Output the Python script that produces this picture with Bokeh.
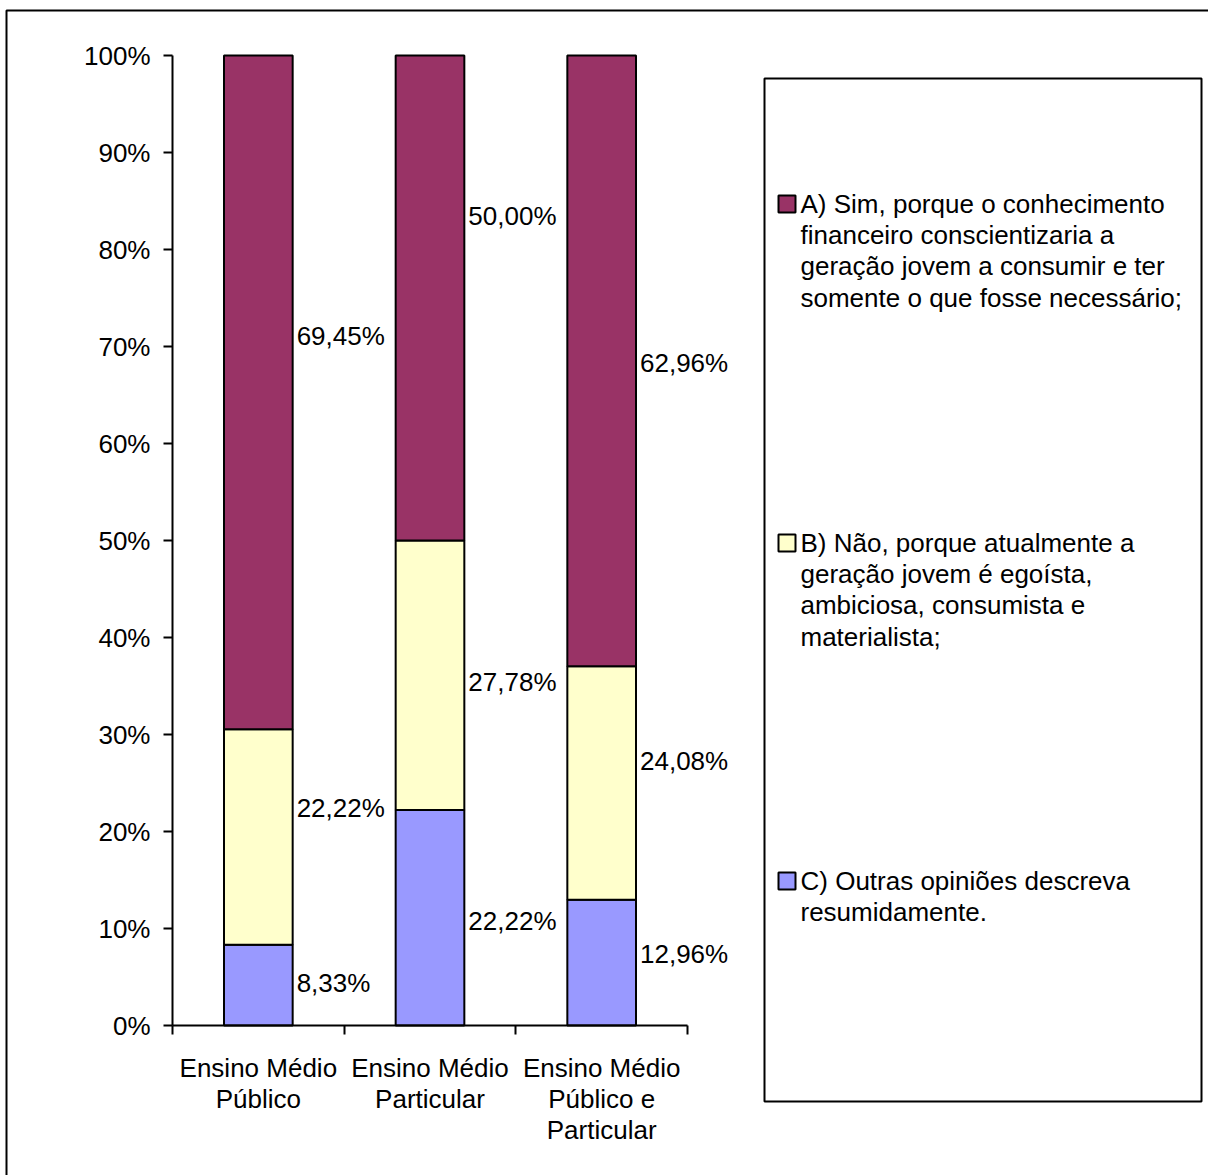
from bokeh.plotting import figure
from bokeh.models import (ColumnDataSource, Range1d, LinearAxis, FixedTicker,
                          LabelSet, BoxAnnotation, Label, CustomJSTickFormatter)
from bokeh.core.properties import value
from bokeh.embed import file_html
from bokeh.resources import INLINE

FONT = "Liberation Sans"
FS = "26px"
LH = 1.045

# categories (school type) and the three answer options, in percent
categories = ["Ensino Médio\nPúblico", "Ensino Médio\nParticular", "Ensino Médio\nPúblico e\nParticular"]
opt_a = [69.45, 50.00, 62.96]
opt_b = [22.22, 27.78, 24.08]
opt_c = [8.33, 22.22, 12.96]

# where each value label sits on the 0..1 axis
label_pos_a = [0.711, 0.835, 0.683]
label_pos_b = [0.224, 0.354, 0.273]
label_pos_c = [0.044, 0.108, 0.074]

legend_texts = [
    "A) Sim, porque o conhecimento\nfinanceiro conscientizaria a\ngeração jovem a consumir e ter\nsomente o que fosse necessário;",
    "B) Não, porque atualmente a\ngeração jovem é egoísta,\nambiciosa, consumista e\nmaterialista;",
    "C) Outras opiniões descreva\nresumidamente.",
]
colors = {"a": "#993366", "b": "#FFFFCC", "c": "#9999FF"}

# page layout in pixels: canvas size and where the axes sit on it
W, H = 1208, 1175
AX_L, AX_R, AX_T, AX_B = 172, 687, 55, 1025

BAR_W = 0.4
n = len(categories)
centers = [i + 0.5 for i in range(n)]

# the frame covers the whole canvas; the ranges put the axes at the wanted pixels
ppx = (AX_R - AX_L) / n
ppy = AX_B - AX_T
x_range = Range1d(-AX_L / ppx, (W - AX_L) / ppx)
y_range = Range1d(-(H - AX_B) / ppy, 1 + AX_T / ppy)

src = ColumnDataSource(dict(
    x=centers,
    c=[v / 100 for v in opt_c],
    b=[v / 100 for v in opt_b],
    a=[v / 100 for v in opt_a],
))

p = figure(width=W, height=H, output_backend="svg", toolbar_location=None,
           x_range=x_range, y_range=y_range,
           x_axis_location=None, y_axis_location=None,
           min_border=0, min_border_left=0, min_border_right=0,
           min_border_top=0, min_border_bottom=0)
p.outline_line_color = None
p.xgrid.grid_line_color = None
p.ygrid.grid_line_color = None
p.background_fill_color = "white"
p.border_fill_color = "white"

p.vbar_stack(["c", "b", "a"], x="x", width=BAR_W, source=src,
             fill_color=[colors["c"], colors["b"], colors["a"]],
             line_color="black", line_width=2)

# value labels to the right of each segment
def fmt(v):
    return f"{v:.2f}".replace(".", ",") + "%"

lab_src = ColumnDataSource(dict(
    x=[c + BAR_W / 2 for c in centers] * 3,
    y=label_pos_c + label_pos_b + label_pos_a,
    txt=[fmt(v) for v in opt_c + opt_b + opt_a],
))
p.add_layout(LabelSet(x="x", y="y", text="txt", source=lab_src,
                      x_offset=4, text_align="left", text_baseline="middle",
                      text_font=value(FONT), text_font_size=FS, text_color="black"))

# y axis: 0% .. 100%
yax = LinearAxis(ticker=FixedTicker(ticks=[i / 10 for i in range(11)], minor_ticks=[]),
                 formatter=CustomJSTickFormatter(code="return Math.round(tick*100) + '%'"),
                 fixed_location=0, bounds=(0, 1))
yax.axis_line_width = 2
yax.major_tick_line_width = 2
yax.major_tick_out = 9
yax.major_tick_in = 0
yax.minor_tick_line_color = None
yax.major_label_standoff = 13
yax.major_label_text_font = FONT
yax.major_label_text_font_size = FS
yax.major_label_text_color = "black"
p.add_layout(yax, "left")

# x axis: names under the bars, tick marks between the categories
xax = LinearAxis(ticker=FixedTicker(ticks=centers, minor_ticks=list(range(n + 1))),
                 fixed_location=0, bounds=(0, n))
xax.major_label_overrides = {c: name for c, name in zip(centers, categories)}
xax.axis_line_width = 2
xax.major_tick_line_color = None
xax.major_tick_out = 0
xax.major_tick_in = 0
xax.minor_tick_line_width = 2
xax.minor_tick_out = 9
xax.minor_tick_in = 0
xax.major_label_standoff = 18
xax.major_label_text_font = FONT
xax.major_label_text_font_size = FS
xax.major_label_text_color = "black"
xax.major_label_text_line_height = LH
p.add_layout(xax, "below")

# outer frame of the chart area
p.add_layout(BoxAnnotation(left=6, right=W + 40, top=10, bottom=H + 40,
                           left_units="canvas", right_units="canvas",
                           top_units="canvas", bottom_units="canvas",
                           fill_alpha=0, line_color="black", line_alpha=1, line_width=2))

# legend box
p.add_layout(BoxAnnotation(left=764, right=1201, top=78, bottom=1101,
                           left_units="canvas", right_units="canvas",
                           top_units="canvas", bottom_units="canvas",
                           fill_alpha=0, line_color="black", line_alpha=1, line_width=2))

legend_tops = [188, 527, 865]
for key, txt, top in zip(["a", "b", "c"], legend_texts, legend_tops):
    p.add_layout(BoxAnnotation(left=778, right=795, top=top + 7, bottom=top + 24,
                               left_units="canvas", right_units="canvas",
                               top_units="canvas", bottom_units="canvas",
                               fill_color=colors[key], fill_alpha=1,
                               line_color="black", line_alpha=1, line_width=2))
    p.add_layout(Label(x=800, y=top, x_units="canvas", y_units="canvas", text=txt,
                       text_align="left", text_baseline="top", text_line_height=LH,
                       text_font=FONT, text_font_size=FS, text_color="black"))

open("out.html", "w").write(file_html(p, INLINE))
